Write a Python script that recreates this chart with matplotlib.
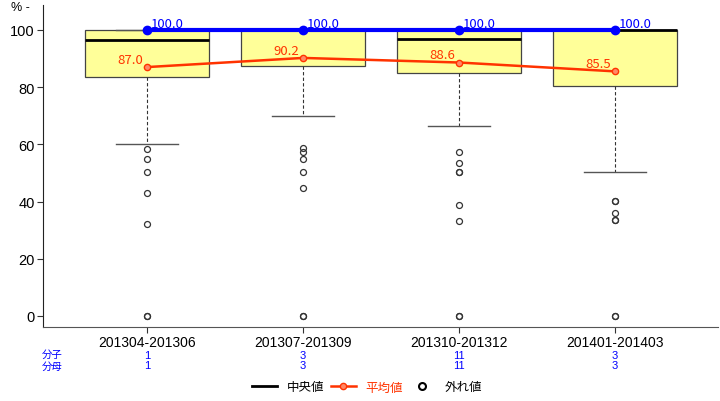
import numpy as np
import matplotlib.pyplot as plt

### Data
periods = ['201304-201306', '201307-201309', '201310-201312', '201401-201403']
q1 = [83.6, 87.4, 85.0, 80.4]
median = [96.5, 100.0, 96.9, 100.0]
q3 = [100.0, 100.0, 100.0, 100.0]
whisker_low = [60.1, 69.9, 66.3, 50.2]
whisker_high = [100.0, 100.0, 100.0, 100.0]
outliers = [
    [58.3, 54.8, 50.2, 42.9, 32.0, 0, 0],
    [58.7, 57.2, 54.8, 50.2, 44.9, 0, 0],
    [57.2, 53.4, 50.2, 50.2, 38.9, 33.3, 0, 0],
    [40.1, 40.1, 35.9, 33.4, 33.4, 0, 0],
]
mean_vals = [87.0, 90.2, 88.6, 85.5]
max_vals = [100.0, 100.0, 100.0, 100.0]
numerator = [1, 3, 11, 3]
denominator = [1, 3, 11, 3]

JP = ['Noto Sans CJK JP', 'DejaVu Sans']
NARROW = ['Liberation Sans Narrow', 'Liberation Sans', 'DejaVu Sans']

### Plot
fig = plt.figure(figsize=(7.2, 4.02), dpi=100)
ax = fig.add_axes([43 / 720, 74 / 402, 675 / 720, 322 / 402])

x = np.arange(1, len(periods) + 1)
stats = []
for i in range(len(periods)):
    stats.append(dict(q1=q1[i], med=median[i], q3=q3[i],
                      whislo=whisker_low[i], whishi=whisker_high[i],
                      fliers=outliers[i], label=periods[i]))

ax.bxp(stats, positions=x, widths=0.8, capwidths=0.4, patch_artist=True,
       showfliers=True,
       boxprops=dict(facecolor='#ffff99', edgecolor='#444444', linewidth=0.9),
       medianprops=dict(color='black', linewidth=2),
       whiskerprops=dict(color='#333333', linewidth=0.8, linestyle=(0, (3, 2))),
       capprops=dict(color='#555555', linewidth=1),
       flierprops=dict(marker='o', markerfacecolor='none', markeredgecolor='#333333',
                       markersize=4.3, markeredgewidth=0.9))

# max line
ax.plot(x, max_vals, color='#0000ff', linewidth=3, marker='o', markersize=6, zorder=5)
for xi, v in zip(x, max_vals):
    ax.annotate(f'{v:.1f}', (xi, v), xytext=(3, 0), textcoords='offset points',
                ha='left', va='bottom', color='#0000ff', fontsize=9.5, family=JP)

# mean line
ax.plot(x, mean_vals, color='#ff3300', linewidth=1.8, marker='o', markersize=4.5,
        markerfacecolor='#ff8866', markeredgecolor='#ff3300', zorder=6)
for xi, v in zip(x, mean_vals):
    ax.annotate(f'{v:.1f}', (xi, v), xytext=(-3, 1), textcoords='offset points',
                ha='right', va='bottom', color='#ff3300', fontsize=9.5, family=JP)

ax.set_xlim(0.333, 4.66)
ax.set_ylim(-3.85, 108.7)
ax.set_xticks(x)
ax.set_xticklabels(periods, family=NARROW, fontsize=10)
ax.set_yticks(np.arange(0, 101, 20))
ax.set_yticklabels([str(v) for v in range(0, 101, 20)], family=NARROW, fontsize=10.5)
ax.tick_params(length=4, width=0.8, color='#333333', pad=2)

for s in ['top', 'right']:
    ax.spines[s].set_visible(False)
ax.spines['left'].set_color('#222222')
ax.spines['bottom'].set_color('#555555')

fig.text(11 / 720, 1 - 8 / 402, '% -', ha='left', va='center', fontsize=9, family=NARROW)

# numerator / denominator rows
ax.text(0.014, -0.084, '分子', transform=ax.transAxes, ha='center', va='center',
        color='#0000ff', fontsize=7.5, family=JP)
ax.text(0.014, -0.122, '分母', transform=ax.transAxes, ha='center', va='center',
        color='#0000ff', fontsize=7.5, family=JP)
for xi, n, d in zip(x, numerator, denominator):
    ax.text(xi, -0.086, str(n), transform=ax.get_xaxis_transform(), ha='center',
            va='center', color='#0000ff', fontsize=8, family=NARROW)
    ax.text(xi, -0.118, str(d), transform=ax.get_xaxis_transform(), ha='center',
            va='center', color='#0000ff', fontsize=8, family=NARROW)

# legend
h1, = ax.plot([], [], color='black', linewidth=2)
h2, = ax.plot([], [], color='#ff3300', linewidth=1.8, marker='o', markersize=4.5,
              markerfacecolor='#ff8866')
h3, = ax.plot([], [], linestyle='none', marker='o', markerfacecolor='none',
              markeredgecolor='black', markersize=5, markeredgewidth=1.5)
leg = fig.legend([h1, h2, h3], ['中央値', '平均値', '外れ値'], loc='center',
                 bbox_to_anchor=(367 / 720, 1 - 388 / 402), ncol=3, frameon=False,
                 prop={'family': JP, 'size': 9}, handlelength=2.0, columnspacing=0.5,
                 handletextpad=0.8)
for t, c in zip(leg.get_texts(), ['black', '#ff3300', 'black']):
    t.set_color(c)

plt.savefig('out.png', dpi=100)
